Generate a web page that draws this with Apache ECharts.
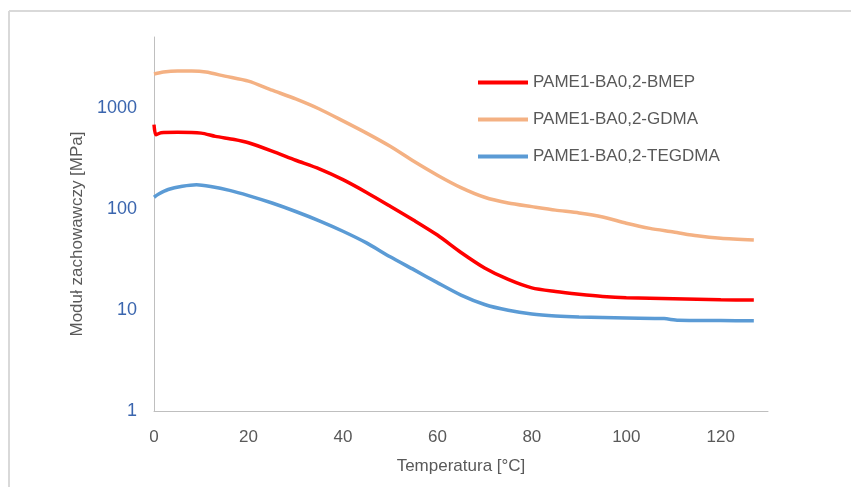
<!DOCTYPE html>
<html>
<head>
<meta charset="utf-8">
<script src="https://cdn.jsdelivr.net/npm/echarts@6/dist/echarts.min.js"></script>
<style>html,body{margin:0;padding:0;background:#fff;}#c{width:851px;height:487px;}</style>
</head>
<body>
<div id="c"></div>
<script>
const seriesNames = ['PAME1-BA0,2-BMEP', 'PAME1-BA0,2-GDMA', 'PAME1-BA0,2-TEGDMA'];
const xTitle = 'Temperatura [°C]';
const yTitle = 'Moduł zachowawczy [MPa]';

const bmepT = [0, 0.4, 1.5, 5, 10, 13, 17, 20, 25, 30, 35, 40, 45, 50, 55, 60, 65, 70, 75, 80, 85, 90, 95, 100, 110, 120, 127];
const bmepV = [680, 540, 565, 570, 560, 520, 485, 450, 372, 302, 248, 194, 145, 106, 77, 55, 37, 26, 20, 16.5, 15.2, 14.3, 13.6, 13.2, 12.9, 12.6, 12.5];

const gdmaT = [0, 2, 5, 8, 11, 15, 20, 25, 30, 35, 40, 45, 50, 55, 60, 65, 70, 75, 80, 85, 90, 95, 100, 105, 110, 115, 120, 127];
const gdmaV = [2150, 2250, 2300, 2300, 2250, 2050, 1830, 1490, 1220, 970, 740, 560, 415, 295, 215, 162, 130, 114, 105, 97, 91, 83, 72, 64, 59, 54, 51, 49];

const tegT = [0, 1, 3, 6, 9, 12, 16, 20, 25, 30, 35, 40, 45, 50, 55, 60, 65, 70, 75, 80, 85, 90, 100, 108, 111, 120, 127];
const tegV = [130, 140, 155, 167, 173, 166, 152, 135, 114, 94, 76, 60, 46, 33.5, 25, 18.6, 14, 11.3, 9.9, 9.1, 8.7, 8.5, 8.3, 8.2, 7.9, 7.85, 7.8];

const colors = ['#FF0000', '#F4B183', '#5B9BD5'];
const zip = (t, v) => t.map((x, i) => [x, v[i]]);

const chart = echarts.init(document.getElementById('c'), null, {renderer: 'canvas'});
const font = 'Liberation Sans';
chart.setOption({
  animation: false,
  backgroundColor: '#ffffff',
  graphic: [
    {type: 'line', silent: true, shape: {x1: 9, y1: 11, x2: 851, y2: 11}, style: {stroke: '#D9D9D9', lineWidth: 2}},
    {type: 'line', silent: true, shape: {x1: 9, y1: 11, x2: 9, y2: 487}, style: {stroke: '#D9D9D9', lineWidth: 2}}
  ],
  grid: {left: 154, top: 37, right: 83, bottom: 76, containLabel: false},
  legend: {
    orient: 'vertical', left: 473, top: 69, itemGap: 20,
    itemWidth: 50, itemHeight: 4, icon: 'rect',
    textStyle: {fontFamily: font, fontSize: 17, color: '#595959'},
    data: seriesNames
  },
  xAxis: {
    type: 'value', min: 0, max: 130, interval: 20,
    name: xTitle, nameLocation: 'middle', nameGap: 47,
    nameTextStyle: {fontFamily: font, fontSize: 17, color: '#595959'},
    axisLine: {show: true, lineStyle: {color: '#BFBFBF', width: 1}},
    axisTick: {show: false},
    splitLine: {show: false},
    axisLabel: {fontFamily: font, fontSize: 17, color: '#595959', margin: 18, showMaxLabel: false}
  },
  yAxis: {
    type: 'log', logBase: 10, min: 1, max: 5000,
    name: yTitle, nameLocation: 'middle', nameGap: 68, nameRotate: 90,
    nameTextStyle: {fontFamily: font, fontSize: 17, color: '#595959', padding: [0, 20, 0, 0]},
    axisLine: {show: true, lineStyle: {color: '#BFBFBF', width: 1}},
    axisTick: {show: false},
    splitLine: {show: false},
    axisLabel: {fontFamily: font, fontSize: 18, color: '#3A65AE', margin: 17, showMaxLabel: false,
                formatter: v => String(Math.round(v))}
  },
  series: [
    {name: seriesNames[0], type: 'line', data: zip(bmepT, bmepV), symbol: 'none', smooth: 0.25,
     lineStyle: {color: colors[0], width: 3.5}, itemStyle: {color: colors[0]}, z: 3},
    {name: seriesNames[1], type: 'line', data: zip(gdmaT, gdmaV), symbol: 'none', smooth: 0.25,
     lineStyle: {color: colors[1], width: 3.5}, itemStyle: {color: colors[1]}, z: 2},
    {name: seriesNames[2], type: 'line', data: zip(tegT, tegV), symbol: 'none', smooth: 0.25,
     lineStyle: {color: colors[2], width: 3.5}, itemStyle: {color: colors[2]}, z: 2}
  ]
});
</script>
</body>
</html>
